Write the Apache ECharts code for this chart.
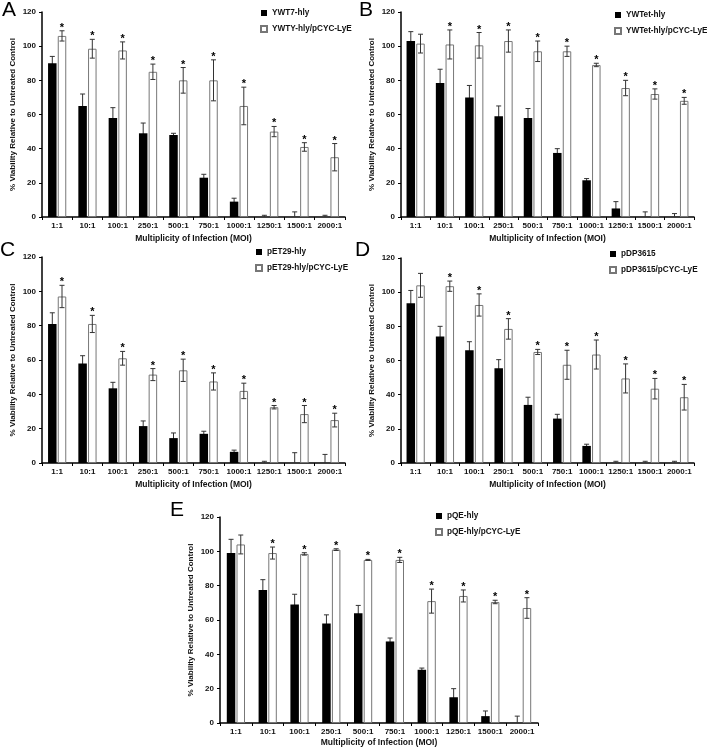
<!DOCTYPE html>
<html><head><meta charset="utf-8">
<script src="https://cdn.jsdelivr.net/npm/echarts@6/dist/echarts.min.js"></script>
<style>html,body{margin:0;padding:0;background:#fff}#c{width:707px;height:750px}</style>
</head><body><div id="c"></div>
<script>
const categories = ['1:1','10:1','100:1','250:1','500:1','750:1','1000:1','1250:1','1500:1','2000:1'];
const yTicks = [0,20,40,60,80,100,120];

// Panel A
const aNames = ['YWT7-hly','YWTY-hly/pCYC-LyE'];
const aBlack = [90,65,58,49,48,23,9,0,0,0];
const aBlackErr = [4,7,6,6,1,2,2,1,3,1];
const aWhite = [106,98.5,97.5,85,80,80,65,50,41,35];
const aWhiteErr = [3,5.5,5,4.5,7.5,12,11,3,2.5,8];
const aStars = [1,1,1,1,1,1,1,1,1,1];
// Panel B
const bNames = ['YWTet-hly','YWTet-hly/pCYC-LyE'];
const bBlack = [103,78.5,70,59,58,37.5,21.5,5,0,0];
const bBlackErr = [5.5,8,7,6,5.5,2.5,1,4,3,2];
const bWhite = [101.5,101,100.5,103,97,97,89,75.5,72,68];
const bWhiteErr = [5.5,8.5,7.5,6.5,6,3,1,4.5,3,2];
const bStars = [0,1,1,1,1,1,1,1,1,1];
// Panel C
const cNames = ['pET29-hly','pET29-hly/pCYC-LyE'];
const cBlack = [81,58,43.5,21.5,14.5,17,6.5,0,0,0];
const cBlackErr = [6.5,4.5,3.5,3,3,1.5,1,1,6,5];
const cWhite = [97,81,61,51.5,54,47.5,42,32.5,28.5,25];
const cWhiteErr = [6.5,5,4,3.5,6.5,5,4.5,1,5,4];
const cStars = [1,1,1,1,1,1,1,1,1,1];
// Panel D
const dNames = ['pDP3615','pDP3615/pCYC-LyE'];
const dBlack = [93.5,74,66,55.5,34,26,10,0,0,0];
const dBlackErr = [7.5,6,5,5,4.5,2.5,1,1,1,1];
const dWhite = [104,103.5,92.5,78.5,65,57.5,63.5,49.5,43.5,38.5];
const dWhiteErr = [7,3,6.5,6,1.5,8.5,8.5,8.5,6,7.5];
const dStars = [0,1,1,1,1,1,1,1,1,1];
// Panel E
const eNames = ['pQE-hly','pQE-hly/pCYC-LyE'];
const eBlack = [99,77.5,69,58,64,47.5,31,15,4,0];
const eBlackErr = [8,6,6,5,4.5,2,1,5,3,4];
const eWhite = [104,99,98.5,101,95,95,71,74,70.5,67];
const eWhiteErr = [5.5,3.5,0.7,0.5,0.3,1.5,7,3.5,1,6];
const eStars = [0,1,1,1,1,1,1,1,1,1];

const panels = [
  {letter:'A', names:aNames, black:aBlack, bErr:aBlackErr, white:aWhite, wErr:aWhiteErr, stars:aStars,
   grid:{left:42, top:12, width:303, height:205}, legend:{left:260, top:9}, lx:2, ly:0, nameGap:17},
  {letter:'B', names:bNames, black:bBlack, bErr:bBlackErr, white:bWhite, wErr:bWhiteErr, stars:bStars,
   grid:{left:401, top:12, width:293, height:205}, legend:{left:614, top:11}, lx:359, ly:0, nameGap:17},
  {letter:'C', names:cNames, black:cBlack, bErr:cBlackErr, white:cWhite, wErr:cWhiteErr, stars:cStars,
   grid:{left:42, top:257, width:303, height:206}, legend:{left:255, top:248}, lx:0, ly:240, nameGap:17},
  {letter:'D', names:dNames, black:dBlack, bErr:dBlackErr, white:dWhite, wErr:dWhiteErr, stars:dStars,
   grid:{left:401, top:258, width:293, height:205}, legend:{left:609, top:250}, lx:355, ly:240, nameGap:17},
  {letter:'E', names:eNames, black:eBlack, bErr:eBlackErr, white:eWhite, wErr:eWhiteErr, stars:eStars,
   grid:{left:220, top:517, width:318, height:206}, legend:{left:435, top:512}, lx:170, ly:500, nameGap:15}
];

const BW = 8.5, GAP = 1.2, OFF = (BW + GAP) / 2;
const FONT = '"Liberation Sans", Arial, sans-serif';

function errSeries(gi, vals, errs, stars, side, z) {
  return {
    type:'custom', xAxisIndex:gi, yAxisIndex:gi, z:z, silent:true, clip:false,
    encode:{x:0, y:1},
    data: vals.map((v,i)=>[i, v, errs[i], stars ? stars[i] : 0]),
    renderItem: function(params, api){
      const i = api.value(0), v = api.value(1), e = api.value(2), s = api.value(3);
      const top = api.coord([i, v + e]);
      const bot = api.coord([i, Math.max(0, v - e)]);
      const x = top[0] + side * OFF;
      const st = {stroke:'#333', lineWidth:1};
      const ch = [
        {type:'line', shape:{x1:x, y1:top[1], x2:x, y2:bot[1]}, style:st},
        {type:'line', shape:{x1:x-2.5, y1:top[1], x2:x+2.5, y2:top[1]}, style:st}
      ];
      if (v - e > 0) ch.push({type:'line', shape:{x1:x-2.5, y1:bot[1], x2:x+2.5, y2:bot[1]}, style:st});
      if (s) ch.push({type:'text', style:{text:'*', x:x, y:top[1]-3, fill:'#000',
        font:'bold 11px ' + FONT, align:'center', verticalAlign:'middle'}});
      return {type:'group', children:ch};
    }
  };
}

const option = {
  backgroundColor:'#fff', animation:false,
  grid:[], xAxis:[], yAxis:[], legend:[], series:[], graphic:[]
};

panels.forEach((p, gi) => {
  option.grid.push(Object.assign({containLabel:false}, p.grid));
  option.xAxis.push({
    type:'category', gridIndex:gi, data:categories,
    name:'Multiplicity of Infection (MOI)', nameLocation:'middle', nameGap:p.nameGap,
    nameTextStyle:{fontFamily:FONT, fontWeight:'bold', fontSize:8.5, color:'#111'},
    axisLine:{lineStyle:{color:'#000', width:1.5}},
    axisTick:{show:true, length:3, lineStyle:{color:'#000'}},
    axisLabel:{fontFamily:FONT, fontWeight:'bold', fontSize:8, color:'#111', margin:5, interval:0}
  });
  option.yAxis.push({
    type:'value', gridIndex:gi, min:0, max:120, interval:20,
    name:'% Viability Relative to Untreated Control', nameLocation:'middle', nameGap:25, nameRotate:90,
    nameTextStyle:{fontFamily:FONT, fontWeight:'bold', fontSize:8, color:'#111'},
    axisLine:{show:true, lineStyle:{color:'#000', width:1.5}},
    axisTick:{show:true, length:3, lineStyle:{color:'#000'}},
    splitLine:{show:false},
    axisLabel:{fontFamily:FONT, fontWeight:'bold', fontSize:8, color:'#111', margin:6,
      formatter: v => yTicks.indexOf(v) >= 0 ? String(v) : ''}
  });
  option.legend.push({
    orient:'vertical', left:p.legend.left, top:p.legend.top, data:p.names, padding:0,
    icon:'rect', itemWidth:6, itemHeight:6, itemGap:8, selectedMode:false,
    textStyle:{fontFamily:FONT, fontWeight:'bold', fontSize:8.2, color:'#111'}
  });
  option.series.push({
    type:'bar', name:p.names[0], xAxisIndex:gi, yAxisIndex:gi, data:p.black,
    barWidth:BW, barGap:(GAP/BW*100)+'%', z:2,
    itemStyle:{color:'#000'}
  });
  option.series.push({
    type:'bar', name:p.names[1], xAxisIndex:gi, yAxisIndex:gi, data:p.white,
    barWidth:BW, barGap:(GAP/BW*100)+'%', z:2,
    itemStyle:{color:'#fff', borderColor:'#777', borderWidth:1}
  });
  option.series.push(errSeries(gi, p.black, p.bErr, null, -1, 1));
  option.series.push(errSeries(gi, p.white, p.wErr, p.stars, 1, 3));
  option.graphic.push({type:'text', left:p.lx, top:p.ly,
    style:{text:p.letter, font:'21px ' + FONT, fill:'#000'}});
});

const chart = echarts.init(document.getElementById('c'), null, {renderer:'canvas'});
chart.setOption(option);
</script></body></html>
